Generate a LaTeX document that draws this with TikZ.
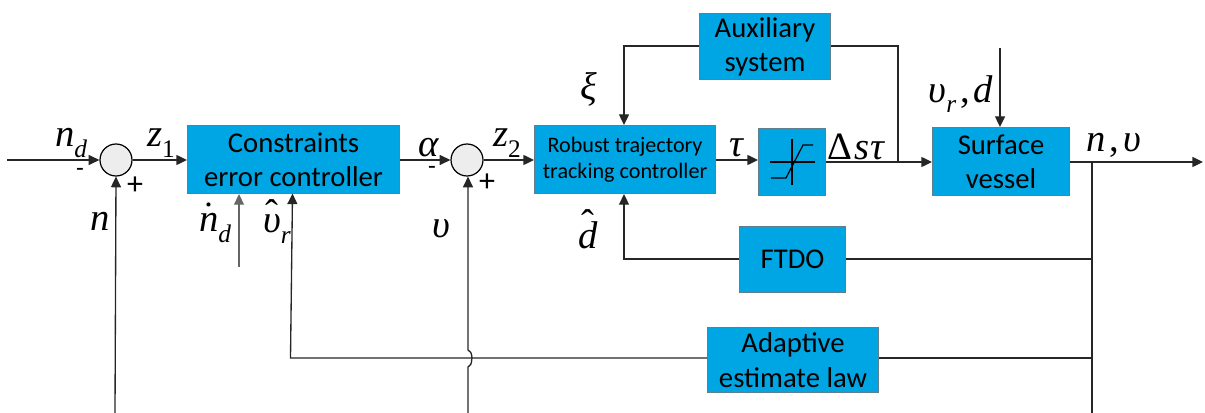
\documentclass[tikz,border=0pt]{standalone}
\usepackage{fontspec}
\setmainfont{Carlito}
\newfontfamily\labelserif{Liberation Serif}
\usetikzlibrary{arrows.meta}
\definecolor{blockblue}{HTML}{00A6E3}
\definecolor{blockedge}{HTML}{5F7F8F}
\newcommand{\mv}[1]{{\labelserif\itshape #1}}
\newcommand{\rv}[1]{{\labelserif #1}}
\newcommand{\sbs}[1]{\raisebox{-8pt}{\fontsize{19}{19}\selectfont #1}}
\newcommand{\withaccent}[3]{\setbox0=\hbox{#1}\hbox to \wd0{\hss\raisebox{#3}[0pt][0pt]{\hbox to 0pt{\hss #2\hss}}\hss}\kern-\wd0\box0 }
\tikzset{
  x=0.75pt,y=-0.75pt,
  block/.style={draw=blockedge,line width=0.8pt,fill=blockblue,inner sep=0pt,align=center,text=black,anchor=north west,font=\fontsize{21.5}{25.7}\selectfont},
  smallblock/.style={block,font=\fontsize{16.6}{19.7}\selectfont},
  sumnode/.style={circle,draw=black,fill=black!7,line width=0.9pt,minimum size=24pt,inner sep=0pt},
  wire/.style={draw=black!85,line width=1pt},
  arrow/.style={wire,-{Triangle[length=8pt,width=7.5pt]}},
  mlabel/.style={inner sep=0pt,font=\fontsize{29}{29}\selectfont},
  minuslabel/.style={inner sep=0pt,font=\fontsize{19}{19}\selectfont},
  pluslabel/.style={inner sep=0pt,font=\fontsize{24}{24}\selectfont}
}
\newcommand{\bx}[6][block]{\node[#1,minimum width=#4*0.75pt,minimum height=#5*0.75pt] (#2) at (#3) {#6};}
\begin{document}
\begin{tikzpicture}
\useasboundingbox (0,0) rectangle (1205,413);
\bx{cec}{187,125}{212}{68}{Constraints\\error controller}
\bx[smallblock]{rtc}{534,125}{181}{68}{Robust trajectory\\tracking controller}
\bx{sat}{758,128}{67}{67}{}
\bx{sv}{932,127}{137}{68}{Surface\\vessel}
\bx{aux}{699,13}{131}{66}{Auxiliary\\system}
\bx{ftdo}{739,226}{106}{66}{FTDO}
\bx{ael}{707,327}{171}{65}{Adaptive\\estimate law}
\node[sumnode] (s1) at (116,160) {};
\node[sumnode] (s2) at (467,160) {};
\coordinate (in) at (7,160);
\coordinate (out) at (1203,162);
\coordinate (tap) at (1092,162);
\coordinate (ftap) at (1092,259);
\coordinate (atap) at (1092,358);
\coordinate (bot) at (1092,413);
\coordinate (nb) at (115,413);
\coordinate (vb) at (468,413);
\coordinate (auxj) at (898,162);
\coordinate (dtop) at (1000,48);
\coordinate (dd) at (239,267);
\draw[arrow] (in) -- (s1.west);
\draw[arrow] (s1.east) -- (cec.west |- s1.east);
\draw[arrow] (cec.east |- s2.west) -- (s2.west);
\draw[arrow] (s2.east) -- (rtc.west |- s2.east);
\draw[arrow] (rtc.east |- 0,160) -- (sat.west |- 0,160);
\draw[arrow] (sat.east |- 0,162) -- (sv.west |- 0,162);
\draw[arrow] (sv.east |- out) -- (out);
\draw[wire] (aux.east |- 0,46) -| (auxj);
\draw[arrow] (aux.west |- 0,46) -| (rtc.north -| 624,0);
\draw[arrow] (dtop) -- (sv.north -| dtop);
\draw[wire] (tap) -- (bot);
\draw[wire] (ftdo.east |- ftap) -- (ftap);
\draw[arrow] (ftdo.west |- ftap) -| (rtc.south -| 624,0);
\draw[wire] (ael.east |- atap) -- (atap);
\draw[arrow] (ael.west |- atap) -- (290.5,358) -- (292.5,193.5);
\draw[arrow] (nb) -- (s1.south);
\draw[arrow] (vb) -- (468,367) .. controls (473,364) and (471,360) .. (472,358) .. controls (471,356) and (473,353) .. (468,350) -- (s2.south -| 468,0);
\draw[draw=black!60,line width=1pt,-{Triangle[length=8pt,width=7.5pt]}] (dd) -- (cec.south -| dd);
% saturation icon
\draw[black,line width=0.9pt] (770,162) -- (815,162);
\draw[black,line width=0.9pt] (792,139) -- (792,185);
\draw[black,line width=0.9pt] (771,178) -- (786,178) -- (803,145) -- (813,145);
% labels
\node[mlabel] (l1) at (71,143) {\mv{n}\sbs{\mv{d}}};
\node[mlabel] (l2) at (161,143) {\mv{z}\sbs{\rv{1}}};
\node[mlabel] (l3) at (100,221) {\mv{n}};
\node[mlabel] (l4) at (215,228) {\withaccent{\mv{n}}{\rv{˙}}{2pt}\sbs{\mv{d}}};
\node[mlabel] (l5) at (277,229) {\withaccent{\mv{υ}}{\rv{ˆ}}{5pt}\sbs{\mv{r}}};
\node[mlabel] (l6) at (429,148) {\mv{α}};
\node[mlabel] (l7) at (507,143) {\mv{z}\sbs{\rv{2}}};
\node[mlabel] (l8) at (441,229) {\mv{υ}};
\node[mlabel] (l9) at (589,89) {\mv{ξ}};
\node[mlabel] (l10) at (588,235) {\withaccent{\mv{d}}{\rv{ˆ}}{9pt}};
\node[mlabel] (l11) at (736,148) {\mv{τ}};
\node[mlabel] (l12) at (856,147) {\rv{Δ}\kern1pt\mv{s}\kern1pt\mv{τ}};
\node[mlabel] (l13) at (961,94) {\mv{υ}\sbs{\mv{r}}\kern3pt\rv{,}\kern3pt\mv{d}};
\node[mlabel] (l14) at (1114,145) {\mv{n}\kern3pt\rv{,}\kern3pt\mv{υ}};
\node[minuslabel] (m1) at (80,172) {-};
\node[pluslabel] (p1) at (135,186) {+};
\node[minuslabel] (m2) at (432,170) {-};
\node[pluslabel] (p2) at (487,183) {+};
\end{tikzpicture}
\end{document}
